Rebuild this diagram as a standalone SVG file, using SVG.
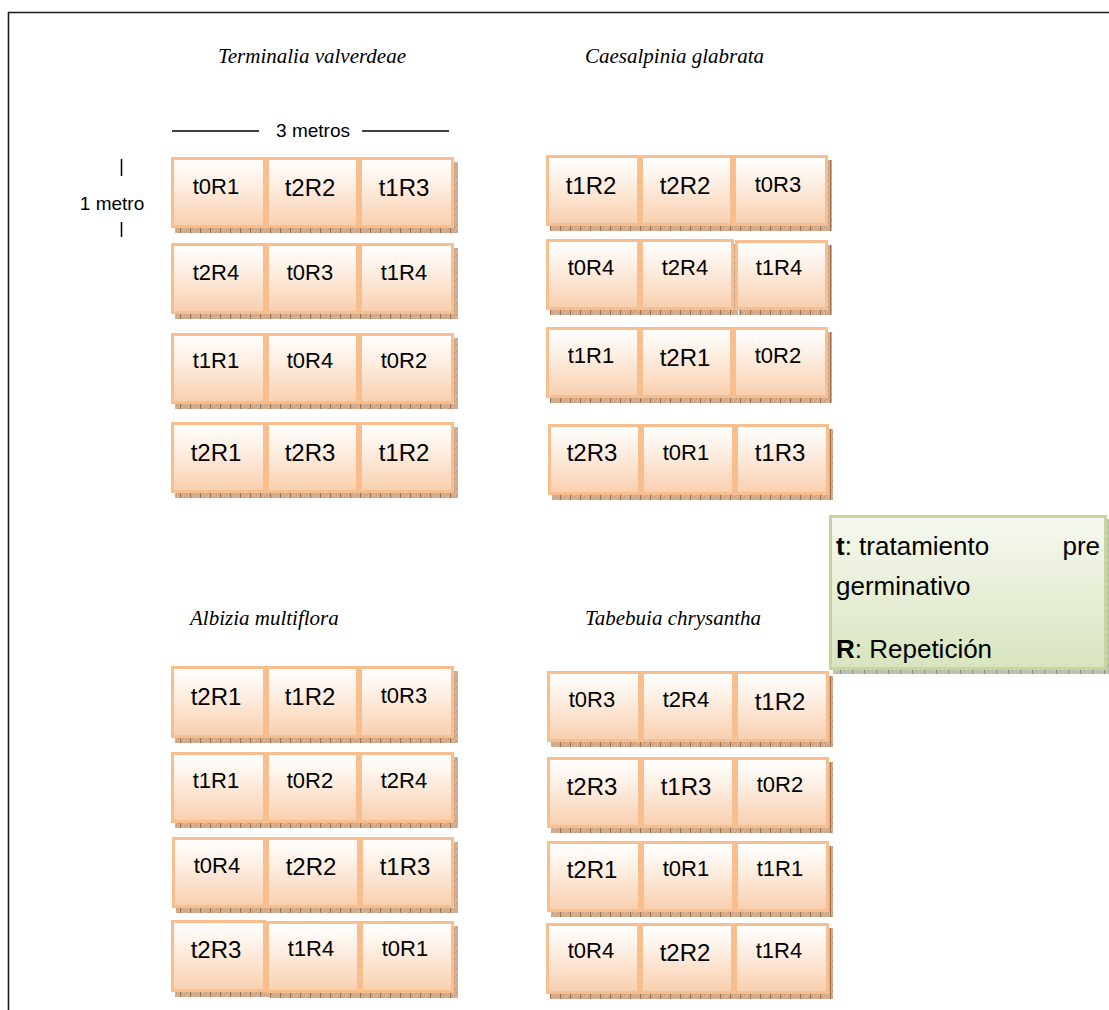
<svg xmlns="http://www.w3.org/2000/svg" width="1109" height="1010" viewBox="0 0 1109 1010">
  <defs>
    <linearGradient id="cellFill" x1="0" y1="0" x2="0" y2="1">
      <stop offset="0" stop-color="#FFFFFF"/>
      <stop offset="0.3" stop-color="#FEF3EA"/>
      <stop offset="1" stop-color="#F9CFAE"/>
    </linearGradient>
    <linearGradient id="legendFill" x1="0" y1="0" x2="0" y2="1">
      <stop offset="0" stop-color="#F6F9F0"/>
      <stop offset="1" stop-color="#D8E5BF"/>
    </linearGradient>
    <pattern id="cellShadow" width="10" height="6" patternUnits="userSpaceOnUse">
      <rect width="10" height="6" fill="#D3B093"/>
      <path d="M2 1h1M6 3h1M4 5h1M8 1h1M1 4h1" stroke="#B88D6C" stroke-width="1"/>
      <rect x="0" y="0" width="1" height="6" fill="#A06F4C"/>
    </pattern>
    <pattern id="legendShadow" width="12" height="6" patternUnits="userSpaceOnUse">
      <rect width="12" height="6" fill="#BFC3B3"/>
      <path d="M2 1h1M6 3h1M4 5h1M9 1h1M1 4h1" stroke="#A3A894" stroke-width="1"/>
      <rect x="0" y="0" width="1" height="6" fill="#8E937E"/>
    </pattern>
  </defs>
  <style>
    .frame { fill: none; stroke: #1a1a1a; stroke-width: 1.6; }
    .cell rect.box { fill: url(#cellFill); stroke: #F9BE8E; stroke-width: 3; }
    .cell rect.sh { fill: url(#cellShadow); }
    .cell text { font-family: "Liberation Sans", Arial, sans-serif; fill: #000; text-anchor: middle; font-size: 22px; }
    .cell text.big { font-size: 24px; }
    .species { font-family: "Liberation Serif", "Times New Roman", serif; font-style: italic; font-size: 21px; fill: #000; }
    .dim { font-family: "Liberation Sans", Arial, sans-serif; font-size: 19px; fill: #000; }
    .dimline { stroke: #000; stroke-width: 1.5; fill: none; }
    .legend rect.box { fill: url(#legendFill); stroke: #C4D79E; stroke-width: 3; }
    .legend rect.sh { fill: url(#legendShadow); }
    .legend text { font-family: "Liberation Sans", Arial, sans-serif; font-size: 26px; fill: #000; }
    .legend tspan.b { font-weight: bold; }
  </style>

  <!-- page frame -->
  <path class="frame" d="M8.5 1012 V12.5 H1112"/>

  <!-- species headings -->
  <text class="species" x="218" y="63">Terminalia valverdeae</text>
  <text class="species" x="585" y="63">Caesalpinia glabrata</text>
  <text class="species" x="190" y="625">Albizia multiflora</text>
  <text class="species" x="585" y="625">Tabebuia chrysantha</text>

  <!-- plot dimensions -->
  <g id="dimensions">
    <path class="dimline" d="M172 131 H259 M362 131 H449"/>
    <text class="dim" x="313" y="137" text-anchor="middle">3 metros</text>
    <path class="dimline" d="M121.5 159 V176 M121.5 222 V237"/>
    <text class="dim" x="112" y="210" text-anchor="middle">1 metro</text>
    <path d="M180 181 H175.5 V224 H180" fill="none" stroke="#FFFFFF" stroke-width="1.5"/>
  </g>

  <!-- Terminalia valverdeae plots -->
  <g id="terminalia">
    <g id="ter-r1c1" class="cell"><rect class="sh" x="175" y="162" width="95" height="71"/><rect class="box" x="172.5" y="158.5" width="92" height="68"/><text x="216" y="194">t0R1</text></g>
    <g id="ter-r1c2" class="cell"><rect class="sh" x="270" y="162" width="93" height="71"/><rect class="box" x="267.5" y="158.5" width="90" height="68"/><text class="big" x="310" y="196">t2R2</text></g>
    <g id="ter-r1c3" class="cell"><rect class="sh" x="363" y="162" width="95" height="71"/><rect class="box" x="360.5" y="158.5" width="92" height="68"/><text class="big" x="404" y="196">t1R3</text></g>

    <g id="ter-r2c1" class="cell"><rect class="sh" x="175" y="248" width="95" height="71"/><rect class="box" x="172.5" y="244.5" width="92" height="68"/><text x="216" y="280">t2R4</text></g>
    <g id="ter-r2c2" class="cell"><rect class="sh" x="270" y="248" width="93" height="71"/><rect class="box" x="267.5" y="244.5" width="90" height="68"/><text x="310" y="280">t0R3</text></g>
    <g id="ter-r2c3" class="cell"><rect class="sh" x="363" y="248" width="95" height="71"/><rect class="box" x="360.5" y="244.5" width="92" height="68"/><text x="404" y="280">t1R4</text></g>

    <g id="ter-r3c1" class="cell"><rect class="sh" x="175" y="338" width="95" height="71"/><rect class="box" x="172.5" y="334.5" width="92" height="68"/><text x="216" y="368">t1R1</text></g>
    <g id="ter-r3c2" class="cell"><rect class="sh" x="270" y="338" width="93" height="71"/><rect class="box" x="267.5" y="334.5" width="90" height="68"/><text x="310" y="368">t0R4</text></g>
    <g id="ter-r3c3" class="cell"><rect class="sh" x="363" y="338" width="95" height="71"/><rect class="box" x="360.5" y="334.5" width="92" height="68"/><text x="404" y="368">t0R2</text></g>

    <g id="ter-r4c1" class="cell"><rect class="sh" x="175" y="427" width="95" height="71"/><rect class="box" x="172.5" y="423.5" width="92" height="68"/><text class="big" x="216" y="461">t2R1</text></g>
    <g id="ter-r4c2" class="cell"><rect class="sh" x="270" y="427" width="93" height="71"/><rect class="box" x="267.5" y="423.5" width="90" height="68"/><text class="big" x="310" y="461">t2R3</text></g>
    <g id="ter-r4c3" class="cell"><rect class="sh" x="363" y="427" width="95" height="71"/><rect class="box" x="360.5" y="423.5" width="92" height="68"/><text class="big" x="404" y="461">t1R2</text></g>
  </g>

  <!-- Caesalpinia glabrata plots -->
  <g id="caesalpinia">
    <g id="cae-r1c1" class="cell"><rect class="sh" x="550" y="160" width="94" height="71"/><rect class="box" x="547.5" y="156.5" width="91" height="68"/><text class="big" x="591" y="194">t1R2</text></g>
    <g id="cae-r1c2" class="cell"><rect class="sh" x="644" y="160" width="93" height="71"/><rect class="box" x="641.5" y="156.5" width="90" height="68"/><text class="big" x="685" y="194">t2R2</text></g>
    <g id="cae-r1c3" class="cell"><rect class="sh" x="737" y="160" width="95" height="71"/><rect class="box" x="734.5" y="156.5" width="92" height="68"/><text x="778" y="192">t0R3</text></g>

    <g id="cae-r2c1" class="cell"><rect class="sh" x="550" y="244" width="94" height="71"/><rect class="box" x="547.5" y="240.5" width="91" height="68"/><text x="591" y="275">t0R4</text></g>
    <g id="cae-r2c2" class="cell"><rect class="sh" x="644" y="244" width="94" height="71"/><rect class="box" x="641.5" y="240.5" width="91" height="68"/><text x="685" y="275">t2R4</text></g>
    <g id="cae-r2c3" class="cell"><rect class="sh" x="739" y="245" width="93" height="70"/><rect class="box" x="736.5" y="241.5" width="90" height="67"/><text x="779" y="275">t1R4</text></g>

    <g id="cae-r3c1" class="cell"><rect class="sh" x="550" y="332" width="94" height="71"/><rect class="box" x="547.5" y="328.5" width="91" height="68"/><text x="591" y="363">t1R1</text></g>
    <g id="cae-r3c2" class="cell"><rect class="sh" x="644" y="332" width="93" height="71"/><rect class="box" x="641.5" y="328.5" width="90" height="68"/><text class="big" x="685" y="366">t2R1</text></g>
    <g id="cae-r3c3" class="cell"><rect class="sh" x="737" y="332" width="95" height="71"/><rect class="box" x="734.5" y="328.5" width="92" height="68"/><text x="778" y="363">t0R2</text></g>

    <g id="cae-r4c1" class="cell"><rect class="sh" x="552" y="429" width="93" height="71"/><rect class="box" x="549.5" y="425.5" width="90" height="68"/><text class="big" x="592" y="461">t2R3</text></g>
    <g id="cae-r4c2" class="cell"><rect class="sh" x="645" y="429" width="94" height="71"/><rect class="box" x="642.5" y="425.5" width="91" height="68"/><text x="686" y="460">t0R1</text></g>
    <g id="cae-r4c3" class="cell"><rect class="sh" x="739" y="429" width="94" height="71"/><rect class="box" x="736.5" y="425.5" width="91" height="68"/><text class="big" x="780" y="461">t1R3</text></g>
  </g>

  <!-- Albizia multiflora plots -->
  <g id="albizia">
    <g id="alb-r1c1" class="cell"><rect class="sh" x="175" y="671" width="95" height="72"/><rect class="box" x="172.5" y="667.5" width="92" height="69"/><text class="big" x="216" y="705">t2R1</text></g>
    <g id="alb-r1c2" class="cell"><rect class="sh" x="270" y="671" width="93" height="72"/><rect class="box" x="267.5" y="667.5" width="90" height="69"/><text class="big" x="310" y="705">t1R2</text></g>
    <g id="alb-r1c3" class="cell"><rect class="sh" x="363" y="671" width="95" height="72"/><rect class="box" x="360.5" y="667.5" width="92" height="69"/><text x="404" y="703">t0R3</text></g>

    <g id="alb-r2c1" class="cell"><rect class="sh" x="175" y="757" width="95" height="71"/><rect class="box" x="172.5" y="753.5" width="92" height="68"/><text x="216" y="788">t1R1</text></g>
    <g id="alb-r2c2" class="cell"><rect class="sh" x="270" y="757" width="93" height="71"/><rect class="box" x="267.5" y="753.5" width="90" height="68"/><text x="310" y="788">t0R2</text></g>
    <g id="alb-r2c3" class="cell"><rect class="sh" x="363" y="757" width="95" height="71"/><rect class="box" x="360.5" y="753.5" width="92" height="68"/><text x="404" y="788">t2R4</text></g>

    <g id="alb-r3c1" class="cell"><rect class="sh" x="176" y="842" width="94" height="71"/><rect class="box" x="173.5" y="838.5" width="91" height="68"/><text x="217" y="873">t0R4</text></g>
    <g id="alb-r3c2" class="cell"><rect class="sh" x="270" y="842" width="94" height="71"/><rect class="box" x="267.5" y="838.5" width="91" height="68"/><text class="big" x="311" y="875">t2R2</text></g>
    <g id="alb-r3c3" class="cell"><rect class="sh" x="364" y="842" width="94" height="71"/><rect class="box" x="361.5" y="838.5" width="91" height="68"/><text class="big" x="405" y="875">t1R3</text></g>

    <g id="alb-r4c1" class="cell"><rect class="sh" x="175" y="925" width="95" height="72"/><rect class="box" x="172.5" y="921.5" width="92" height="69"/><text class="big" x="216" y="958">t2R3</text></g>
    <g id="alb-r4c2" class="cell"><rect class="sh" x="270" y="926" width="94" height="72"/><rect class="box" x="267.5" y="922.5" width="91" height="69"/><text x="311" y="956">t1R4</text></g>
    <g id="alb-r4c3" class="cell"><rect class="sh" x="364" y="926" width="94" height="72"/><rect class="box" x="361.5" y="922.5" width="91" height="69"/><text x="405" y="956">t0R1</text></g>
  </g>

  <!-- Tabebuia chrysantha plots -->
  <g id="tabebuia">
    <g id="tab-r1c1" class="cell"><rect class="sh" x="551" y="676" width="94" height="71"/><rect class="box" x="548.5" y="672.5" width="91" height="68"/><text x="592" y="707">t0R3</text></g>
    <g id="tab-r1c2" class="cell"><rect class="sh" x="645" y="676" width="94" height="71"/><rect class="box" x="642.5" y="672.5" width="91" height="68"/><text x="686" y="707">t2R4</text></g>
    <g id="tab-r1c3" class="cell"><rect class="sh" x="739" y="676" width="94" height="71"/><rect class="box" x="736.5" y="672.5" width="91" height="68"/><text class="big" x="780" y="710">t1R2</text></g>

    <g id="tab-r2c1" class="cell"><rect class="sh" x="551" y="762" width="94" height="71"/><rect class="box" x="548.5" y="758.5" width="91" height="68"/><text class="big" x="592" y="795">t2R3</text></g>
    <g id="tab-r2c2" class="cell"><rect class="sh" x="645" y="762" width="94" height="71"/><rect class="box" x="642.5" y="758.5" width="91" height="68"/><text class="big" x="686" y="795">t1R3</text></g>
    <g id="tab-r2c3" class="cell"><rect class="sh" x="739" y="762" width="94" height="71"/><rect class="box" x="736.5" y="758.5" width="91" height="68"/><text x="780" y="792">t0R2</text></g>

    <g id="tab-r3c1" class="cell"><rect class="sh" x="551" y="846" width="94" height="71"/><rect class="box" x="548.5" y="842.5" width="91" height="68"/><text class="big" x="592" y="878">t2R1</text></g>
    <g id="tab-r3c2" class="cell"><rect class="sh" x="645" y="846" width="94" height="71"/><rect class="box" x="642.5" y="842.5" width="91" height="68"/><text x="686" y="876">t0R1</text></g>
    <g id="tab-r3c3" class="cell"><rect class="sh" x="739" y="846" width="94" height="71"/><rect class="box" x="736.5" y="842.5" width="91" height="68"/><text x="780" y="876">t1R1</text></g>

    <g id="tab-r4c1" class="cell"><rect class="sh" x="550" y="928" width="94" height="71"/><rect class="box" x="547.5" y="924.5" width="91" height="68"/><text x="591" y="958">t0R4</text></g>
    <g id="tab-r4c2" class="cell"><rect class="sh" x="644" y="928" width="94" height="71"/><rect class="box" x="641.5" y="924.5" width="91" height="68"/><text class="big" x="685" y="961">t2R2</text></g>
    <g id="tab-r4c3" class="cell"><rect class="sh" x="738" y="928" width="95" height="71"/><rect class="box" x="735.5" y="924.5" width="92" height="68"/><text x="779" y="958">t1R4</text></g>
  </g>

  <!-- key -->
  <g id="legend" class="legend">
    <rect class="sh" x="833" y="519" width="278" height="155"/>
    <rect class="box" x="830.5" y="516.5" width="275" height="152"/>
    <text x="836" y="555"><tspan class="b">t</tspan>: tratamiento</text>
    <text x="1100" y="555" text-anchor="end">pre</text>
    <text x="836" y="595">germinativo</text>
    <text x="836" y="658"><tspan class="b">R</tspan>: Repetición</text>
  </g>

  <!-- no connectors in this layout -->
  <g id="connectors"/>
</svg>
